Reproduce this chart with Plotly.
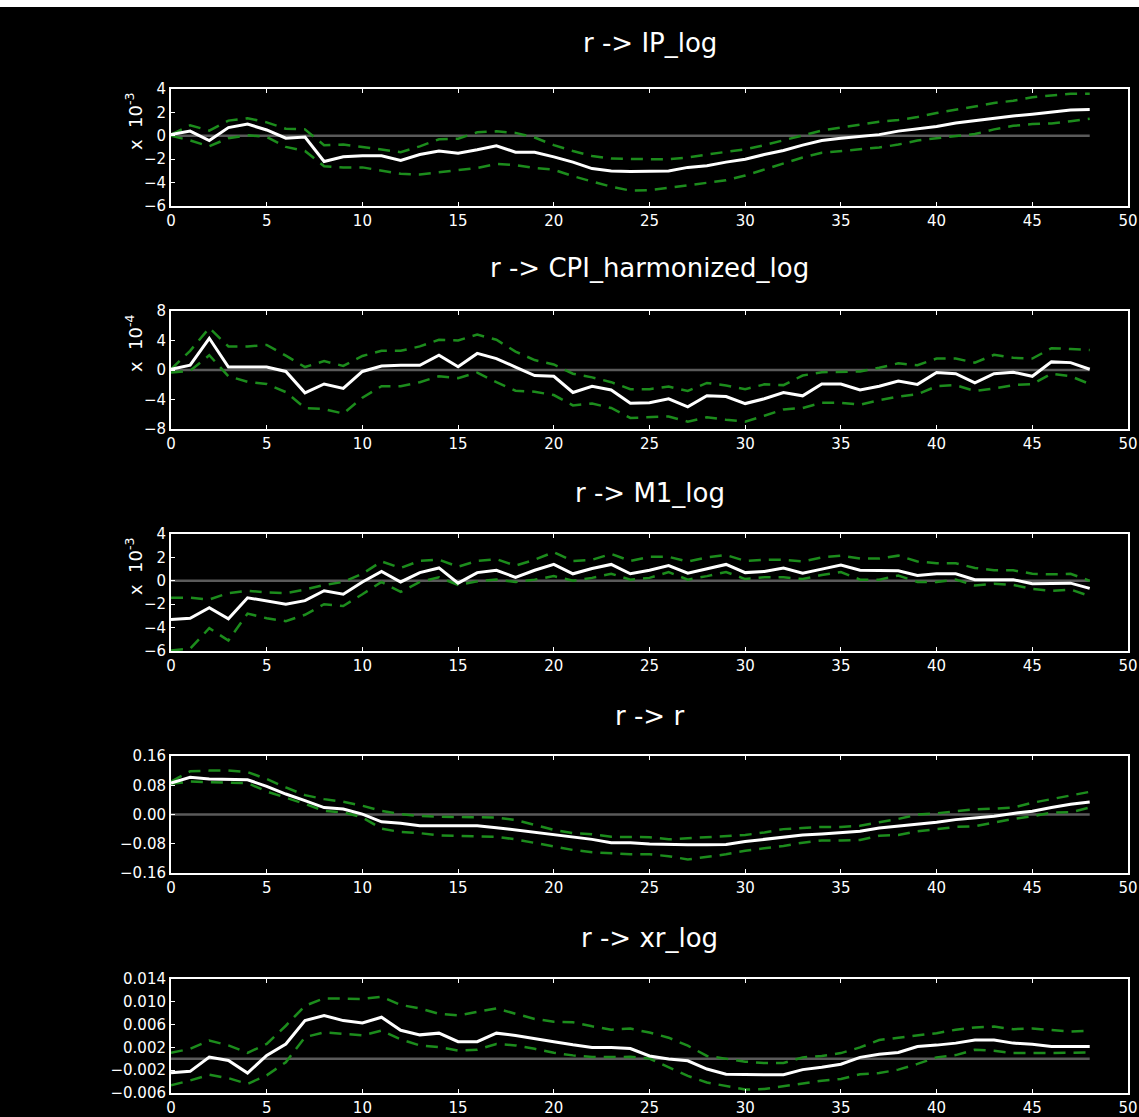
import plotly.graph_objects as go

# Horizon (periods after the interest-rate shock)
horizon = list(range(49))

# r -> IP_log  (values in units of 1e-3)
ip_mid = [0.1, 0.4, -0.4, 0.7, 1.0, 0.5, -0.2, -0.1, -2.2, -1.8, -1.7, -1.7, -2.1, -1.6, -1.3,
          -1.5, -1.2, -0.85, -1.4, -1.4, -1.8, -2.25, -2.8, -3.0, -3.05, -3.05, -3.0, -2.7, -2.55,
          -2.25, -2.0, -1.6, -1.25, -0.8, -0.4, -0.2, -0.05, 0.1, 0.4, 0.6, 0.8, 1.1, 1.3, 1.55,
          1.7, 1.85, 2.0, 2.2, 2.25]
ip_hi = [0.1, 0.9, 0.45, 1.3, 1.5, 1.15, 0.6, 0.55, -0.8, -0.75, -0.95, -1.15, -1.4, -0.9, -0.3,
         -0.25, 0.3, 0.38, 0.25, -0.15, -0.8, -1.3, -1.72, -1.95, -2.0, -2.0, -2.0, -1.85, -1.6,
         -1.4, -1.15, -0.8, -0.4, 0.05, 0.45, 0.7, 0.95, 1.2, 1.35, 1.6, 1.95, 2.2, 2.5, 2.8,
         3.0, 3.3, 3.45, 3.6, 3.6]
ip_lo = [0.0, -0.4, -0.9, -0.2, 0.05, -0.1, -0.95, -1.3, -2.6, -2.7, -2.7, -2.95, -3.25, -3.3,
         -3.1, -2.95, -2.75, -2.4, -2.5, -2.75, -2.9, -3.45, -3.9, -4.35, -4.68, -4.65, -4.45,
         -4.25, -4.05, -3.8, -3.4, -2.9, -2.4, -1.85, -1.45, -1.3, -1.2, -1.0, -0.75, -0.4, -0.2,
         0.0, 0.15, 0.55, 0.85, 1.0, 1.05, 1.25, 1.45]

# r -> CPI_harmonized_log  (values in units of 1e-4)
cpi_mid = [0.1, 0.65, 4.3, 0.4, 0.4, 0.4, -0.2, -3.1, -1.9, -2.5, -0.2, 0.55, 0.65, 0.65, 2.0,
           0.45, 2.25, 1.55, 0.4, -0.75, -0.85, -3.05, -2.2, -2.7, -4.5, -4.45, -3.9, -5.0, -3.5,
           -3.6, -4.55, -3.9, -3.05, -3.5, -1.9, -1.9, -2.7, -2.2, -1.5, -1.95, -0.35, -0.5,
           -1.75, -0.5, -0.3, -0.85, 1.1, 1.0, 0.1]
cpi_hi = [0.1, 2.6, 5.7, 3.2, 3.2, 3.4, 1.95, 0.4, 1.2, 0.55, 1.9, 2.6, 2.6, 3.2, 4.1, 4.0, 4.8,
          4.1, 2.5, 1.35, 0.75, -0.5, -1.0, -1.65, -2.6, -2.6, -2.25, -2.85, -1.75, -2.1, -2.6,
          -1.95, -2.05, -0.75, -0.3, -0.2, -0.2, 0.3, 0.9, 0.65, 1.55, 1.55, 1.0, 2.05, 1.65,
          1.55, 2.95, 2.85, 2.7]
cpi_lo = [-0.35, -0.1, 2.0, -0.85, -1.6, -1.9, -3.0, -5.15, -5.3, -5.9, -3.75, -2.2, -2.2, -1.65,
          -0.85, -1.1, -0.35, -1.65, -2.8, -2.95, -3.4, -4.8, -4.55, -5.15, -6.5, -6.4, -6.3,
          -7.0, -6.4, -6.75, -7.0, -6.2, -5.35, -5.15, -4.45, -4.45, -4.7, -4.1, -3.6, -3.3,
          -2.2, -2.05, -2.85, -2.5, -2.05, -1.9, -0.5, -0.85, -1.9]

# r -> M1_log  (values in units of 1e-3)
m1_mid = [-3.3, -3.2, -2.3, -3.25, -1.45, -1.7, -2.0, -1.7, -0.85, -1.15, -0.1, 0.8, -0.1, 0.7,
          1.1, -0.2, 0.7, 0.9, 0.3, 0.9, 1.4, 0.6, 1.05, 1.4, 0.6, 0.9, 1.3, 0.65, 1.0, 1.4, 0.7,
          0.8, 1.1, 0.65, 1.0, 1.35, 0.9, 0.9, 0.85, 0.45, 0.6, 0.6, 0.1, 0.1, 0.1, -0.25, -0.2,
          -0.2, -0.65]
m1_hi = [-1.45, -1.45, -1.6, -1.05, -0.85, -1.0, -1.05, -0.75, -0.35, -0.1, 0.6, 1.65, 1.1, 1.7,
         1.8, 1.2, 1.7, 1.85, 1.3, 1.8, 2.45, 1.7, 1.8, 2.3, 1.7, 2.05, 2.05, 1.65, 2.0, 2.2, 1.7,
         1.8, 1.8, 1.65, 2.0, 2.15, 1.9, 1.9, 2.15, 1.65, 1.5, 1.5, 1.1, 0.9, 0.9, 0.6, 0.55,
         0.6, 0.0]
m1_lo = [-5.95, -5.8, -4.05, -5.1, -2.8, -3.2, -3.45, -2.9, -2.0, -2.15, -1.15, -0.1, -0.95, -0.1,
         0.3, -0.35, -0.05, 0.1, -0.1, 0.1, 0.4, 0.0, 0.25, 0.6, 0.1, 0.25, 0.75, 0.1, 0.4, 0.75,
         0.15, 0.3, 0.3, 0.15, 0.5, 0.75, 0.1, 0.1, 0.45, -0.1, -0.1, 0.1, -0.4, -0.25, -0.35,
         -0.7, -0.85, -0.75, -1.3]

# r -> r
r_mid = [0.086, 0.102, 0.097, 0.097, 0.095, 0.077, 0.056, 0.038, 0.019, 0.015, 0.001, -0.020,
         -0.024, -0.031, -0.031, -0.031, -0.031, -0.036, -0.042, -0.048, -0.054, -0.061, -0.068,
         -0.077, -0.077, -0.081, -0.083, -0.083, -0.083, -0.082, -0.074, -0.068, -0.062, -0.056,
         -0.053, -0.049, -0.046, -0.037, -0.032, -0.025, -0.021, -0.014, -0.009, -0.005, 0.003,
         0.009, 0.019, 0.028, 0.034]
r_hi = [0.090, 0.118, 0.120, 0.120, 0.116, 0.097, 0.074, 0.053, 0.042, 0.035, 0.024, 0.010,
        0.001, -0.004, -0.006, -0.006, -0.006, -0.008, -0.015, -0.029, -0.042, -0.051, -0.054,
        -0.061, -0.062, -0.062, -0.068, -0.065, -0.062, -0.060, -0.056, -0.049, -0.040, -0.037,
        -0.034, -0.034, -0.031, -0.021, -0.012, 0.000, 0.003, 0.009, 0.014, 0.016, 0.019, 0.032,
        0.042, 0.053, 0.062]
r_lo = [0.084, 0.090, 0.088, 0.088, 0.086, 0.063, 0.047, 0.029, 0.010, 0.006, -0.008, -0.039,
        -0.048, -0.051, -0.057, -0.059, -0.059, -0.061, -0.068, -0.077, -0.086, -0.097, -0.103,
        -0.107, -0.109, -0.109, -0.114, -0.123, -0.116, -0.109, -0.099, -0.093, -0.086, -0.077,
        -0.071, -0.071, -0.070, -0.058, -0.056, -0.046, -0.040, -0.034, -0.032, -0.021, -0.012,
        -0.005, 0.005, 0.006, 0.019]

# r -> xr_log
xr_mid = [-0.00245, -0.0022, 0.0003, -0.0003, -0.0025, 0.0006, 0.0026, 0.0067, 0.0076, 0.0067,
          0.0063, 0.0073, 0.0050, 0.0042, 0.0045, 0.0030, 0.0030, 0.0045, 0.0041, 0.0035, 0.0030,
          0.00245, 0.0020, 0.0020, 0.0018, 0.0005, -0.00005, -0.00035, -0.0018, -0.0027, -0.0028,
          -0.0028, -0.0028, -0.0019, -0.0015, -0.00095, 0.00025, 0.0008, 0.0011, 0.00215, 0.0024,
          0.00275, 0.0033, 0.0033, 0.00275, 0.00255, 0.00215, 0.00215, 0.00215]
xr_hi = [0.00105, 0.00175, 0.0032, 0.00235, 0.00105, 0.0026, 0.0058, 0.0093, 0.0106, 0.0105,
         0.0105, 0.0109, 0.00945, 0.00885, 0.0079, 0.0076, 0.0082, 0.00885, 0.0079, 0.0070,
         0.0065, 0.0064, 0.0057, 0.0051, 0.0053, 0.0046, 0.0037, 0.0023, 0.0005, -0.00005,
         -0.0005, -0.00075, -0.00075, 0.00025, 0.0005, 0.0010, 0.0020, 0.0033, 0.0037, 0.00415,
         0.0045, 0.0051, 0.0055, 0.00565, 0.0052, 0.0053, 0.0051, 0.0048, 0.0049]
xr_lo = [-0.00465, -0.0038, -0.0028, -0.0034, -0.0044, -0.0029, -0.0006, 0.0038, 0.00465, 0.0044,
         0.0041, 0.00495, 0.0034, 0.00235, 0.00205, 0.00145, 0.0016, 0.0026, 0.00235, 0.00175,
         0.00105, 0.0006, 0.0003, 0.0003, 0.00035, 0.00005, -0.0015, -0.0030, -0.00415, -0.0048,
         -0.0054, -0.0053, -0.0048, -0.00425, -0.00385, -0.00355, -0.0027, -0.0025, -0.0019,
         -0.0009, 0.00025, 0.00065, 0.0016, 0.0014, 0.0010, 0.0010, 0.0010, 0.0010, 0.0011]

panels = [
    dict(title="r -> IP_log", mid=ip_mid, hi=ip_hi, lo=ip_lo,
         yrange=[-6, 4], ticks=[-6, -4, -2, 0, 2, 4], fmt="d", exp="x  10<sup>-3</sup>"),
    dict(title="r -> CPI_harmonized_log", mid=cpi_mid, hi=cpi_hi, lo=cpi_lo,
         yrange=[-8, 8], ticks=[-8, -4, 0, 4, 8], fmt="d", exp="x  10<sup>-4</sup>"),
    dict(title="r -> M1_log", mid=m1_mid, hi=m1_hi, lo=m1_lo,
         yrange=[-6, 4], ticks=[-6, -4, -2, 0, 2, 4], fmt="d", exp="x  10<sup>-3</sup>"),
    dict(title="r -> r", mid=r_mid, hi=r_hi, lo=r_lo,
         yrange=[-0.16, 0.16], ticks=[-0.16, -0.08, 0.0, 0.08, 0.16], fmt=".2f", exp=None),
    dict(title="r -> xr_log", mid=xr_mid, hi=xr_hi, lo=xr_lo,
         yrange=[-0.006, 0.014], ticks=[-0.006, -0.002, 0.002, 0.006, 0.010, 0.014],
         fmt=".3f", exp=None),
]

W, H = 1139, 1117
# Pixel extents of each axes box (top, bottom) and the title row
boxes = [(89, 206, 43), (311, 429, 268), (534, 651, 493), (756, 873, 716), (979, 1093, 938)]
x_left, x_right = 171, 1128

WHITE = "#ffffff"
GREEN = "#1c8c1c"
ZERO = "#5a5a5a"
FONT = "DejaVu Sans"

fig = go.Figure()
layout = dict(
    width=W, height=H,
    margin=dict(l=0, r=0, t=0, b=0, pad=0, autoexpand=False),
    paper_bgcolor="black", plot_bgcolor="black",
    showlegend=False,
    font=dict(family=FONT, color=WHITE, size=15),
)
annotations = []

for i, p in enumerate(panels):
    n = "" if i == 0 else str(i + 1)
    top, bot, ttl = boxes[i]
    xa, ya = "x" + n, "y" + n

    # zero reference line across the horizon
    fig.add_trace(go.Scatter(x=[horizon[0], horizon[-1]], y=[0, 0], mode="lines",
                             line=dict(color=ZERO, width=2.5), xaxis=xa, yaxis=ya,
                             hoverinfo="skip"))
    for band in (p["hi"], p["lo"]):
        fig.add_trace(go.Scatter(x=horizon, y=band, mode="lines",
                                 line=dict(color=GREEN, width=2.5, dash="12px,8px"),
                                 xaxis=xa, yaxis=ya))
    fig.add_trace(go.Scatter(x=horizon, y=p["mid"], mode="lines",
                             line=dict(color=WHITE, width=3), xaxis=xa, yaxis=ya))

    layout["xaxis" + n] = dict(
        domain=[x_left / W, x_right / W], range=[0, 50], anchor=ya, automargin=False,
        tickvals=[0, 5, 10, 15, 20, 25, 30, 35, 40, 45, 50],
        ticks="inside", ticklen=4, tickcolor=WHITE, tickwidth=1,
        showline=True, linecolor=WHITE, linewidth=2, mirror="ticks",
        showgrid=False, zeroline=False, tickfont=dict(size=15, color=WHITE),
    )
    layout["yaxis" + n] = dict(
        domain=[1 - bot / H, 1 - top / H], range=p["yrange"], anchor=xa, automargin=False,
        tickvals=p["ticks"], tickformat=p["fmt"],
        ticks="inside", ticklen=4, tickcolor=WHITE, tickwidth=1,
        showline=True, linecolor=WHITE, linewidth=2, mirror=True,
        showgrid=False, zeroline=False, tickfont=dict(size=15, color=WHITE),
    )
    annotations.append(dict(
        text=p["title"], xref="paper", yref="paper",
        x=(x_left + x_right) / 2 / W, y=1 - ttl / H,
        xanchor="center", yanchor="middle", showarrow=False,
        font=dict(size=26, color=WHITE, family=FONT),
    ))
    if p["exp"]:
        annotations.append(dict(
            text=p["exp"], xref="paper", yref="paper",
            x=134 / W, y=1 - (top + 1) / H, textangle=-90,
            xanchor="center", yanchor="top", showarrow=False,
            font=dict(size=18, color=WHITE, family=FONT),
        ))

layout["annotations"] = annotations
# thin white strip along the top edge of the page
layout["shapes"] = [dict(type="rect", xref="paper", yref="paper", x0=0, x1=1,
                         y0=1 - 7 / H, y1=1, fillcolor="white", line=dict(width=0),
                         layer="above")]
fig.update_layout(**layout)
fig.write_html("out.html")
